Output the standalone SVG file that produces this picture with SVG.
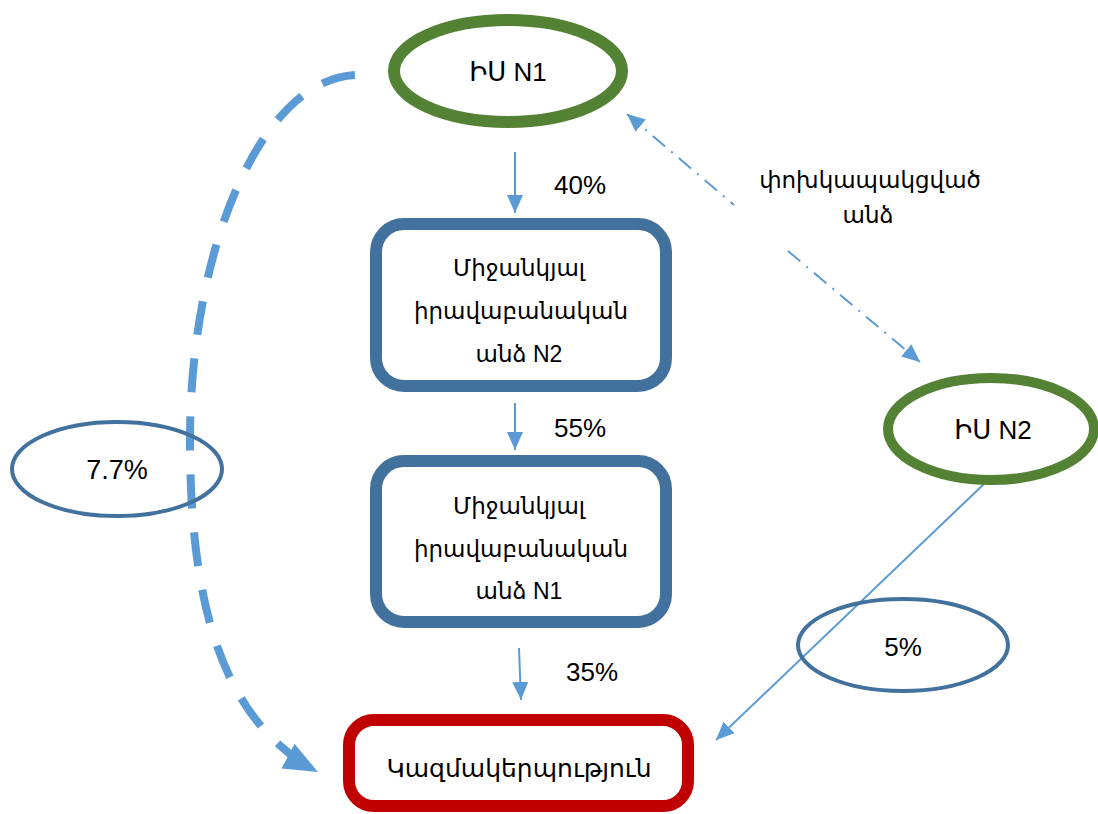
<svg xmlns="http://www.w3.org/2000/svg" width="1098" height="814" viewBox="0 0 1098 814">
<defs>
<style>
.t{font-family:"Liberation Sans","DejaVu Sans",sans-serif;font-size:23px;fill:#000;text-anchor:middle;dominant-baseline:central}
.lbl{font-size:26px}
.arm{font-size:23px}
.green{fill:#fff;stroke:#548235;stroke-width:12}
.blue{fill:#fff;stroke:#41719C;stroke-width:12}
.red{fill:#fff;stroke:#C00000;stroke-width:12}
.pct{fill:none;stroke:#41719C;stroke-width:4}
.c{fill:none;stroke:#5B9BD5;stroke-width:2}
</style>
<marker id="ah" markerUnits="userSpaceOnUse" markerWidth="20" markerHeight="20" viewBox="0 0 20 20" refX="18" refY="10" orient="auto-start-reverse">
<path d="M0,2 L18,10 L0,18 Z" fill="#5B9BD5"/>
</marker>
<marker id="ahb" markerUnits="userSpaceOnUse" markerWidth="36" markerHeight="36" viewBox="0 0 36 36" refX="34" refY="18" orient="auto">
<path d="M0,4 L34,18 L0,32 Z" fill="#5B9BD5"/>
</marker>
</defs>
<rect width="1098" height="814" fill="#fff"/>
<g id="connectors">
<path class="c" d="M515,152 L515,213" marker-end="url(#ah)"/>
<path class="c" d="M515,403 L515,450" marker-end="url(#ah)"/>
<path class="c" d="M519,648 L521,700" marker-end="url(#ah)"/>
<path class="c" d="M985,483 L716,740" marker-end="url(#ah)"/>
<path class="c" d="M627,114 L734,205 M788,251 L920,362" stroke-dasharray="16,8,2,8" marker-start="url(#ah)" marker-end="url(#ah)"/>
<path d="M355,75 C260,80 190,250 190,440 C190,600 220,720 318,772" fill="none" stroke="#5B9BD5" stroke-width="8" stroke-dasharray="34,24" marker-end="url(#ahb)"/>
</g>
<g id="iu1">
<ellipse class="green" cx="508" cy="71" rx="114" ry="51"/>
<text class="t" x="508" y="72" style="font-size:26px">ԻՍ N1</text>
</g>
<g id="mid2">
<rect class="blue" x="376" y="224" width="290" height="162" rx="28"/>
<text class="t" x="519" y="268">Միջանկյալ</text>
<text class="t" x="521" y="311">իրավաբանական</text>
<text class="t" x="519" y="354">անձ N2</text>
</g>
<g id="mid1">
<rect class="blue" x="376" y="461" width="290" height="161" rx="28"/>
<text class="t" x="519" y="506">Միջանկյալ</text>
<text class="t" x="521" y="549">իրավաբանական</text>
<text class="t" x="519" y="591">անձ N1</text>
</g>
<g id="org">
<rect class="red" x="349" y="720" width="339" height="86" rx="25"/>
<text class="t" x="519" y="768" style="font-size:25px">Կազմակերպություն</text>
</g>
<g id="iu2">
<ellipse class="green" cx="991" cy="429" rx="103" ry="51" style="stroke-width:10"/>
<text class="t" x="993" y="430" style="font-size:26px">ԻՍ N2</text>
</g>
<g id="p77">
<ellipse class="pct" cx="117" cy="469" rx="105" ry="47"/>
<text class="t" x="117" y="470" style="font-size:27px">7.7%</text>
</g>
<g id="p5">
<ellipse class="pct" cx="903" cy="645" rx="105" ry="46"/>
<text class="t" x="903" y="647" style="font-size:26px">5%</text>
</g>
<g id="labels">
<text class="t lbl" x="580" y="185">40%</text>
<text class="t lbl" x="580" y="428">55%</text>
<text class="t lbl" x="592" y="672">35%</text>
<text class="t arm" x="870" y="180">փոխկապակցված</text>
<text class="t arm" x="868" y="215">անձ</text>
</g>
</svg>
